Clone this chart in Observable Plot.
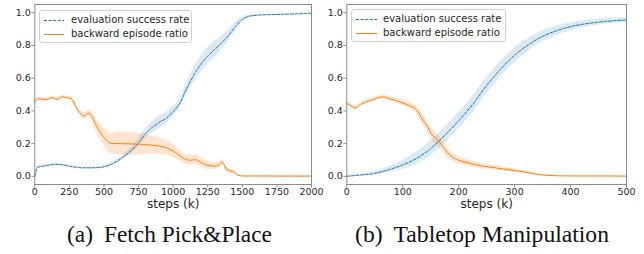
<!DOCTYPE html>
<html>
<head>
<meta charset="utf-8">
<script src="https://cdn.jsdelivr.net/npm/d3@7"></script>
<script src="https://cdn.jsdelivr.net/npm/@observablehq/plot@0.6"></script>
<style>
  html, body { margin: 0; padding: 0; background: #fff; }
  #root { position: relative; width: 644px; height: 254px; overflow: hidden; font-family: "DejaVu Sans", sans-serif; }
  .panel { position: absolute; top: 0; overflow: visible; }
  .legend { position: absolute; border: 1px solid #d0d0d0; border-radius: 3px; background: rgba(255,255,255,0.85); color: #262626; box-sizing: border-box; }
  .legend .row { position: absolute; left: 0; height: 12px; line-height: 12px; white-space: nowrap; }
  .legend svg { position: absolute; top: 0; }
  .legend span { position: absolute; top: 0; }
  .caption { position: absolute; font-family: "Liberation Serif", "Times New Roman", serif; color: #111; white-space: nowrap; transform: translateX(-50%); }
</style>
</head>
<body>
<div id="root"></div>
<script>
// ---------- (a) Fetch Pick&Place ----------
const fetchSteps      = [0, 20, 50, 100, 150, 200, 250, 300, 350, 400, 450, 500, 550, 600, 650, 700, 750, 800, 850, 900, 950, 1000, 1050, 1100, 1150, 1200, 1250, 1300, 1350, 1400, 1450, 1500, 1550, 1600, 1700, 1800, 1900, 2000];
const fetchSuccess    = [0.0, 0.055, 0.06, 0.068, 0.073, 0.07, 0.062, 0.055, 0.052, 0.052, 0.053, 0.058, 0.072, 0.095, 0.125, 0.16, 0.205, 0.26, 0.30, 0.33, 0.355, 0.395, 0.45, 0.54, 0.62, 0.685, 0.735, 0.775, 0.815, 0.86, 0.915, 0.958, 0.978, 0.984, 0.988, 0.99, 0.993, 0.996];
const fetchSuccessErr = [0.0, 0.005, 0.005, 0.006, 0.006, 0.006, 0.005, 0.005, 0.005, 0.005, 0.006, 0.008, 0.01, 0.012, 0.015, 0.02, 0.025, 0.03, 0.035, 0.04, 0.035, 0.03, 0.03, 0.035, 0.045, 0.05, 0.05, 0.05, 0.04, 0.035, 0.025, 0.015, 0.006, 0.004, 0.003, 0.003, 0.003, 0.003];

const fetchBackSteps  = [0, 30, 60, 90, 125, 160, 200, 235, 270, 300, 330, 355, 390, 415, 450, 490, 525, 560, 600, 650, 700, 760, 800, 850, 900, 950, 1000, 1050, 1080, 1125, 1160, 1190, 1250, 1300, 1330, 1355, 1390, 1440, 1475, 1500, 2000];
const fetchBackward   = [0.455, 0.475, 0.47, 0.47, 0.48, 0.47, 0.486, 0.48, 0.47, 0.42, 0.385, 0.368, 0.385, 0.363, 0.30, 0.25, 0.215, 0.20, 0.20, 0.199, 0.198, 0.196, 0.194, 0.19, 0.184, 0.175, 0.155, 0.125, 0.108, 0.098, 0.102, 0.09, 0.067, 0.062, 0.07, 0.085, 0.04, 0.026, 0.004, 0.002, 0.001];
const fetchBackwardErr= [0.01, 0.01, 0.01, 0.01, 0.01, 0.01, 0.01, 0.01, 0.012, 0.015, 0.02, 0.022, 0.022, 0.025, 0.04, 0.05, 0.06, 0.065, 0.07, 0.07, 0.07, 0.065, 0.06, 0.055, 0.05, 0.045, 0.04, 0.035, 0.03, 0.03, 0.03, 0.03, 0.025, 0.02, 0.02, 0.02, 0.015, 0.01, 0.005, 0.004, 0.004];
const fetchTicks = [0, 250, 500, 750, 1000, 1250, 1500, 1750, 2000];

// ---------- (b) Tabletop Manipulation ----------
const tableSteps      = [0, 25, 50, 75, 100, 125, 150, 175, 200, 225, 250, 275, 300, 325, 350, 375, 400, 425, 450, 475, 500];
const tableSuccess    = [0.0, 0.008, 0.018, 0.04, 0.07, 0.11, 0.17, 0.25, 0.34, 0.44, 0.555, 0.655, 0.74, 0.805, 0.855, 0.89, 0.915, 0.931, 0.942, 0.95, 0.955];
const tableSuccessErr = [0.004, 0.006, 0.01, 0.018, 0.028, 0.038, 0.045, 0.05, 0.05, 0.05, 0.05, 0.048, 0.045, 0.04, 0.033, 0.028, 0.024, 0.02, 0.018, 0.016, 0.015];

const tableBackSteps  = [0, 8, 15, 25, 35, 48, 63, 78, 95, 110, 125, 135, 145, 150, 160, 170, 180, 190, 200, 215, 230, 245, 265, 285, 300, 315, 330, 345, 360, 380, 400, 440, 500];
const tableBackward   = [0.446, 0.43, 0.418, 0.44, 0.455, 0.47, 0.485, 0.473, 0.455, 0.435, 0.405, 0.35, 0.30, 0.265, 0.23, 0.19, 0.145, 0.115, 0.098, 0.085, 0.07, 0.062, 0.052, 0.042, 0.035, 0.028, 0.018, 0.01, 0.005, 0.003, 0.002, 0.002, 0.001];
const tableBackwardErr= [0.01, 0.01, 0.01, 0.01, 0.01, 0.01, 0.012, 0.014, 0.016, 0.02, 0.022, 0.028, 0.032, 0.035, 0.035, 0.035, 0.03, 0.025, 0.022, 0.02, 0.018, 0.016, 0.014, 0.012, 0.01, 0.008, 0.006, 0.005, 0.004, 0.003, 0.003, 0.004, 0.002];
const tableTicks = [0, 100, 200, 300, 400, 500];

const yTicks = [0, 0.2, 0.4, 0.6, 0.8, 1.0];
const seriesNames = ["evaluation success rate", "backward episode ratio"];
const xLabel = "steps (k)";
const captionLabels = ["(a)", "(b)"];
const captionTexts = ["Fetch Pick&Place", "Tabletop Manipulation"];

const BLUE = "#1f77b4", ORANGE = "#ff7f0e", FRAME = "#8c8c8c", TEXT = "#262626";
const SERIF = "Liberation Serif";

const ctx = document.createElement("canvas").getContext("2d");
function textWidth(t, size, family) { ctx.font = `${size}px "${family}"`; return ctx.measureText(t).width; }

function table(xs, ys, es) {
  return xs.map((x, i) => ({x, y: ys[i], lo: ys[i] - es[i], hi: ys[i] + es[i]}));
}

function makePlot({width, marginLeft, marginRight, xDomain, xTicks, success, backward}) {
  return Plot.plot({
    width, height: 212,
    marginLeft, marginRight, marginTop: 4, marginBottom: 28,
    style: {fontFamily: "DejaVu Sans, sans-serif", color: TEXT, background: "transparent", overflow: "visible"},
    x: {domain: xDomain},
    y: {domain: [-0.05, 1.05]},
    marks: [
      Plot.areaY(success, {x: "x", y1: "lo", y2: "hi", fill: BLUE, fillOpacity: 0.16, curve: "monotone-x"}),
      Plot.areaY(backward, {x: "x", y1: "lo", y2: "hi", fill: ORANGE, fillOpacity: 0.2, curve: "monotone-x"}),
      Plot.lineY(success, {x: "x", y: "y", stroke: BLUE, strokeWidth: 1, strokeDasharray: "3,1.6", curve: "monotone-x"}),
      Plot.lineY(backward, {x: "x", y: "y", stroke: ORANGE, strokeWidth: 1, curve: "monotone-x"}),
      Plot.frame({stroke: FRAME, strokeWidth: 1}),
      Plot.axisX({ticks: xTicks, tickFormat: d => String(d), tickSize: 3.5, tickPadding: 0, stroke: FRAME, fontSize: 9.5, label: null}),
      Plot.axisY({ticks: yTicks, tickFormat: d3.format(".1f"), tickSize: 3, tickPadding: 1, stroke: FRAME, fontSize: 9.5, label: null}),
      Plot.text([xLabel], {frameAnchor: "bottom", dy: 23, fontSize: 12, fill: TEXT})
    ]
  });
}

function legend(left, top, w, sampleX, sampleW, textX) {
  const div = document.createElement("div");
  div.className = "legend";
  Object.assign(div.style, {left: left + "px", top: top + "px", width: w + "px", height: "33px", fontSize: "10px"});
  const styles = [{color: BLUE, dash: "3,1.6"}, {color: ORANGE, dash: null}];
  seriesNames.forEach((name, i) => {
    const row = document.createElement("div");
    row.className = "row";
    row.style.top = (3 + i * 14) + "px";
    row.style.width = "100%";
    row.innerHTML = `<svg width="${sampleW}" height="12" style="left:${sampleX}px"><line x1="0" x2="${sampleW}" y1="6.5" y2="6.5" stroke="${styles[i].color}" stroke-width="1" ${styles[i].dash ? `stroke-dasharray="${styles[i].dash}"` : ""}/></svg><span style="left:${textX}px">${name}</span>`;
    div.appendChild(row);
  });
  return div;
}

const root = document.getElementById("root");

const p1 = makePlot({width: 322, marginLeft: 34.3, marginRight: 11, xDomain: [0, 2000], xTicks: fetchTicks,
  success: table(fetchSteps, fetchSuccess, fetchSuccessErr), backward: table(fetchBackSteps, fetchBackward, fetchBackwardErr)});
p1.classList.add("panel"); p1.style.left = "0px";
root.appendChild(p1);

const p2 = makePlot({width: 322, marginLeft: 24.3, marginRight: 18, xDomain: [0, 500], xTicks: tableTicks,
  success: table(tableSteps, tableSuccess, tableSuccessErr), backward: table(tableBackSteps, tableBackward, tableBackwardErr)});
p2.classList.add("panel"); p2.style.left = "322px";
root.appendChild(p2);

root.appendChild(legend(39, 10, 153, 4, 20, 31));
root.appendChild(legend(351, 9, 155, 4, 21, 31));

// captions: label, gap, title; sized to the reference caption widths
const capGap = 11;
[[169.5, 205], [482, 254]].forEach(([cx, total], k) => {
  const size = 20 * (total - capGap) / (textWidth(captionLabels[k], 20, SERIF) + textWidth(captionTexts[k], 20, SERIF));
  const c = document.createElement("div");
  c.className = "caption";
  c.style.left = cx + "px";
  c.style.fontSize = size + "px";
  c.style.lineHeight = size + "px";
  c.style.top = (243 - 0.84 * size) + "px";
  const lab = document.createElement("span");
  lab.textContent = captionLabels[k];
  lab.style.marginRight = capGap + "px";
  c.appendChild(lab);
  c.appendChild(document.createTextNode(captionTexts[k]));
  root.appendChild(c);
});
</script>
</body>
</html>
